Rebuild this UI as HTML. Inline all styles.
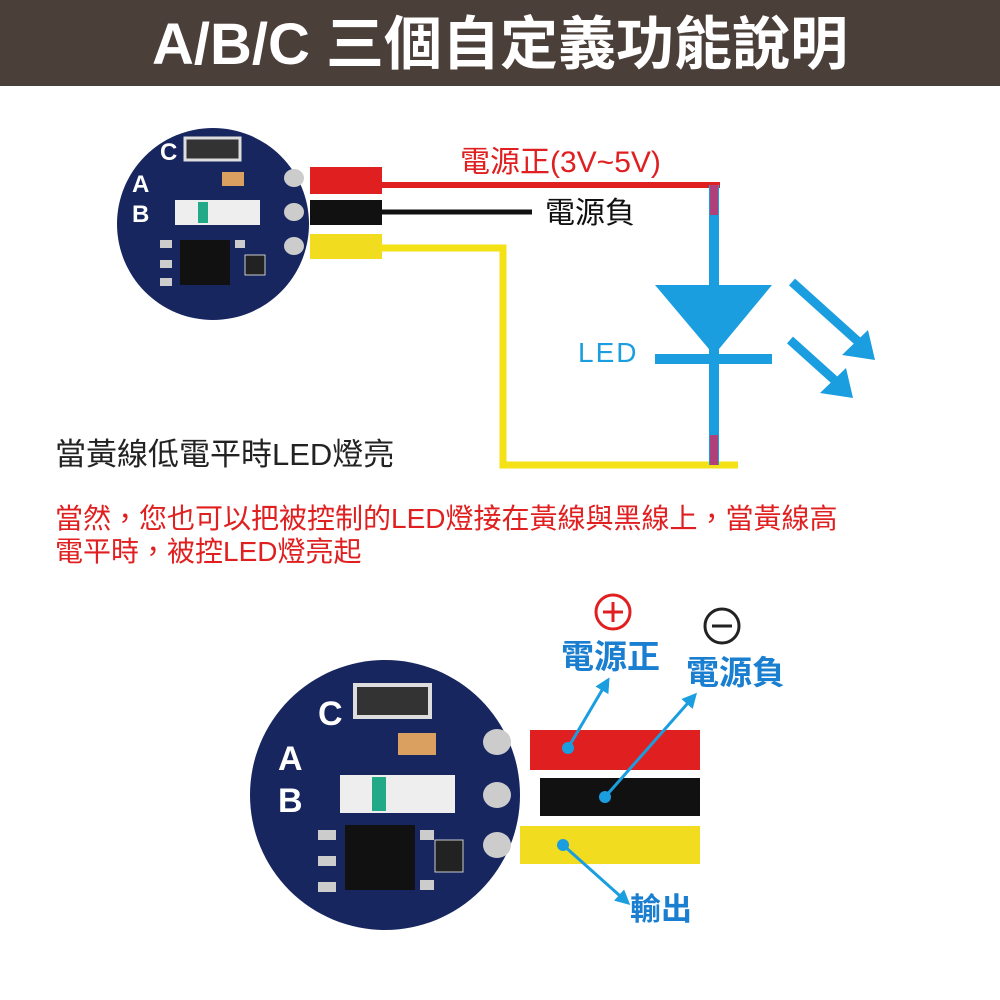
<!DOCTYPE html>
<html><head><meta charset="utf-8"><style>
html,body{margin:0;padding:0;background:#fff;}
svg{display:block;}
text{font-family:"Liberation Sans","Noto Sans CJK TC",sans-serif;}
</style></head><body>
<svg width="1000" height="1000" viewBox="0 0 1000 1000" xmlns="http://www.w3.org/2000/svg">
<defs>
<marker id="ab" viewBox="0 0 10 10" refX="8" refY="5" markerWidth="5" markerHeight="5" orient="auto"><path d="M0,0 L10,5 L0,10 z" fill="#1a9ee0"/></marker>
</defs>
<rect x="0" y="0" width="1000" height="86" fill="#4b3f3a"/>
<text x="500" y="64" text-anchor="middle" font-size="58" font-weight="bold" fill="#fff">A/B/C 三個自定義功能說明</text>

<!-- top PCB -->
<circle cx="213" cy="224" r="96" fill="#17265f"/>
<g fill="#fff" font-weight="bold" font-size="24"><text x="160" y="160">C</text><text x="132" y="192">A</text><text x="132" y="222">B</text></g>
<rect x="185" y="138" width="55" height="22" fill="#333" stroke="#ddd" stroke-width="3"/>
<rect x="222" y="172" width="22" height="14" fill="#d9a060"/>
<rect x="175" y="200" width="85" height="25" fill="#eee"/>
<rect x="198" y="202" width="10" height="21" fill="#2a8"/>
<rect x="180" y="240" width="50" height="45" fill="#111"/>
<rect x="245" y="255" width="20" height="20" fill="#222" stroke="#ccc"/>
<g fill="#ccc"><rect x="160" y="240" width="12" height="8"/><rect x="160" y="260" width="12" height="8"/><rect x="160" y="278" width="12" height="8"/><rect x="235" y="240" width="10" height="8"/></g>
<g fill="#ccc"><ellipse cx="294" cy="178" rx="10" ry="9"/><ellipse cx="294" cy="212" rx="10" ry="9"/><ellipse cx="294" cy="246" rx="10" ry="9"/></g>
<rect x="310" y="167" width="72" height="27" fill="#e02020"/>
<rect x="310" y="200" width="72" height="25" fill="#111"/>
<rect x="310" y="234" width="72" height="25" fill="#f2dc20"/>
<line x1="380" y1="185" x2="720" y2="185" stroke="#e02020" stroke-width="6"/>
<line x1="380" y1="212" x2="532" y2="212" stroke="#111" stroke-width="5"/>
<polyline points="380,248 503,248 503,465 738,465" fill="none" stroke="#f5e216" stroke-width="7"/>
<text x="460" y="172" font-size="30" fill="#e02020">電源正(3V~5V)</text>
<text x="545" y="223" font-size="30" fill="#111">電源負</text>
<!-- LED -->
<line x1="714" y1="185" x2="714" y2="465" stroke="#1a9ee0" stroke-width="10"/>
<line x1="714" y1="185" x2="714" y2="215" stroke="#b0407a" stroke-width="8"/>
<line x1="714" y1="435" x2="714" y2="465" stroke="#b0407a" stroke-width="8"/>
<polygon points="655,285 772,285 714,355" fill="#1a9ee0"/>
<rect x="655" y="354" width="117" height="10" fill="#1a9ee0"/>
<text x="578" y="362" font-size="28" fill="#1a9ee0" letter-spacing="2">LED</text>
<g stroke="#1a9ee0" stroke-width="9" fill="none"><line x1="792" y1="282" x2="862" y2="345"/><line x1="790" y1="340" x2="840" y2="385"/></g>
<polygon points="875,360 842,355 868,330" fill="#1a9ee0"/>
<polygon points="853,398 820,393 846,368" fill="#1a9ee0"/>

<text x="55" y="465" font-size="31" fill="#222">當黃線低電平時LED燈亮</text>
<text x="55" y="528" font-size="28" fill="#e02020">當然，您也可以把被控制的LED燈接在黃線與黑線上，當黃線高</text>
<text x="55" y="561" font-size="28" fill="#e02020">電平時，被控LED燈亮起</text>

<!-- bottom PCB -->
<circle cx="385" cy="795" r="135" fill="#17265f"/>
<g fill="#fff" font-weight="bold" font-size="34"><text x="318" y="725">C</text><text x="278" y="770">A</text><text x="278" y="812">B</text></g>
<rect x="355" y="685" width="75" height="32" fill="#333" stroke="#ddd" stroke-width="4"/>
<rect x="398" y="733" width="38" height="22" fill="#d9a060"/>
<rect x="340" y="775" width="115" height="38" fill="#eee"/>
<rect x="372" y="777" width="14" height="34" fill="#2a8"/>
<rect x="345" y="825" width="70" height="65" fill="#111"/>
<rect x="435" y="840" width="28" height="32" fill="#222" stroke="#ccc"/>
<g fill="#ccc"><rect x="318" y="830" width="18" height="10"/><rect x="318" y="856" width="18" height="10"/><rect x="318" y="882" width="18" height="10"/><rect x="420" y="830" width="14" height="10"/><rect x="420" y="880" width="14" height="10"/></g>
<g fill="#ccc"><ellipse cx="497" cy="742" rx="14" ry="13"/><ellipse cx="497" cy="795" rx="14" ry="13"/><ellipse cx="497" cy="845" rx="14" ry="13"/></g>
<rect x="530" y="730" width="170" height="40" fill="#e02020"/>
<rect x="540" y="778" width="160" height="38" fill="#111"/>
<rect x="520" y="826" width="180" height="38" fill="#f2dc20"/>
<circle cx="613" cy="612" r="17" fill="none" stroke="#e02020" stroke-width="3"/>
<line x1="603" y1="612" x2="623" y2="612" stroke="#e02020" stroke-width="3"/>
<line x1="613" y1="602" x2="613" y2="622" stroke="#e02020" stroke-width="3"/>
<circle cx="722" cy="626" r="17" fill="none" stroke="#222" stroke-width="3"/>
<line x1="712" y1="626" x2="732" y2="626" stroke="#222" stroke-width="3"/>
<text x="561" y="668" font-size="33" font-weight="bold" fill="#1a7fd0">電源正</text>
<text x="686" y="684" font-size="33" font-weight="bold" fill="#1a7fd0">電源負</text>
<text x="630" y="920" font-size="31" font-weight="bold" fill="#1a7fd0">輸出</text>
<g stroke="#1a9ee0" stroke-width="3" marker-end="url(#ab)">
<line x1="568" y1="748" x2="608" y2="680"/>
<line x1="605" y1="797" x2="695" y2="695"/>
<line x1="563" y1="845" x2="628" y2="903"/>
</g>
<g fill="#1a9ee0"><circle cx="568" cy="748" r="6"/><circle cx="605" cy="797" r="6"/><circle cx="563" cy="845" r="6"/></g>
</svg>
</body></html>
